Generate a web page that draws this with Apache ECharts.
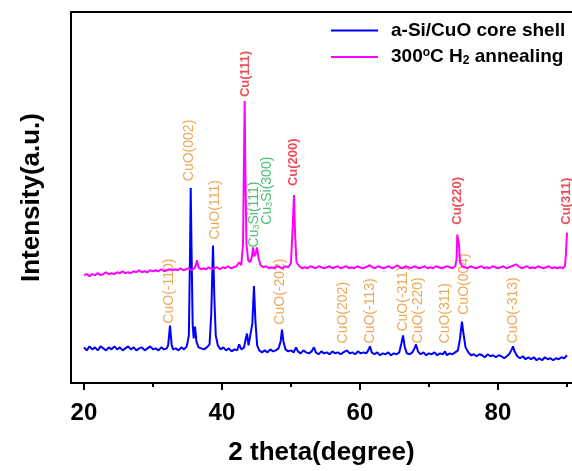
<!DOCTYPE html>
<html lang="en">
<head>
    <meta charset="UTF-8">
    <title>XRD</title>
    <script src="https://cdn.jsdelivr.net/npm/echarts@6/dist/echarts.min.js"></script>
    <style>
        html, body { margin: 0; padding: 0; background: #fff; }
        #box { width: 572px; height: 471px; }
    </style>
</head>
<body>
<div id="box"></div>
<script>
    // legend names
    var seriesNames = ['a-Si/CuO core shell', '300°C H2 annealing'];

    // [2theta, intensity]
    var blueData = [
        [20.0, 36], [20.4, 33], [20.8, 37], [21.2, 34], [21.6, 36], [22.0, 33], [22.4, 37], [22.8, 35],
        [23.2, 33], [23.6, 36], [24.0, 34], [24.4, 37], [24.8, 34], [25.2, 36], [25.6, 33], [26.0, 35],
        [26.4, 37], [26.8, 34], [27.2, 36], [27.6, 33], [28.0, 35], [28.4, 36], [28.8, 33], [29.2, 35],
        [29.6, 37], [30.0, 34], [30.4, 35], [30.8, 33], [31.2, 36], [31.6, 34], [32.0, 35], [32.2, 38],
        [32.47, 58], [32.7, 39], [32.9, 34], [33.3, 35], [33.7, 33], [34.1, 36], [34.5, 34], [34.9, 37],
        [35.2, 48], [35.35, 120], [35.47, 197], [35.6, 130], [35.75, 60], [35.9, 45], [36.09, 57], [36.3, 42],
        [36.6, 36], [37.0, 35], [37.4, 34], [37.8, 36], [38.2, 39], [38.45, 70], [38.7, 139], [38.9, 85],
        [39.1, 48], [39.4, 38], [39.8, 34], [40.2, 36], [40.6, 33], [41.0, 35], [41.4, 32], [41.8, 34],
        [42.2, 33], [42.5, 39], [42.8, 34], [43.2, 36], [43.45, 45], [43.63, 50], [43.85, 38], [44.1, 36],
        [44.4, 60], [44.64, 98], [44.85, 62], [45.1, 38], [45.4, 33], [45.8, 31], [46.2, 33], [46.6, 31],
        [47.0, 34], [47.4, 32], [47.8, 33], [48.2, 35], [48.5, 42], [48.7, 54], [48.9, 42], [49.2, 34],
        [49.6, 32], [50.0, 33], [50.4, 31], [50.73, 36], [51.0, 32], [51.4, 30], [51.8, 33], [52.2, 31],
        [52.6, 30], [53.0, 32], [53.34, 36], [53.6, 31], [54.0, 29], [54.4, 32], [54.8, 30], [55.2, 31],
        [55.6, 29], [56.0, 32], [56.4, 30], [56.8, 31], [57.2, 29], [57.6, 31], [58.12, 33], [58.5, 30],
        [58.9, 31], [59.3, 29], [59.7, 32], [60.1, 30], [60.5, 31], [60.9, 30], [61.2, 33], [61.45, 37],
        [61.7, 31], [62.1, 29], [62.5, 31], [62.9, 28], [63.3, 30], [63.7, 29], [64.1, 31], [64.5, 28],
        [64.9, 30], [65.3, 29], [65.7, 31], [66.0, 40], [66.24, 48], [66.5, 36], [66.8, 30], [67.2, 29],
        [67.6, 31], [67.9, 35], [68.12, 39], [68.4, 32], [68.8, 29], [69.2, 31], [69.6, 28], [70.0, 30],
        [70.4, 29], [70.8, 31], [71.2, 28], [71.6, 30], [72.0, 29], [72.32, 32], [72.6, 28], [73.0, 30],
        [73.4, 29], [73.8, 31], [74.2, 33], [74.5, 45], [74.78, 62], [75.0, 50], [75.3, 36], [75.7, 31],
        [76.1, 28], [76.5, 29], [76.9, 27], [77.3, 29], [77.7, 28], [78.1, 26], [78.5, 29], [78.9, 27],
        [79.3, 28], [79.7, 26], [80.1, 28], [80.5, 27], [80.9, 25], [81.3, 27], [81.7, 30], [82.0, 34],
        [82.18, 37], [82.4, 32], [82.8, 27], [83.2, 25], [83.6, 27], [84.0, 24], [84.4, 26], [84.8, 24],
        [85.2, 26], [85.6, 23], [86.0, 25], [86.4, 23], [86.8, 26], [87.2, 24], [87.6, 25], [88.0, 23],
        [88.4, 25], [88.8, 24], [89.2, 26], [89.6, 25], [90.0, 28]
    ];

    var magentaData = [
        [20.0, 109], [20.4, 110], [20.8, 108], [21.2, 110], [21.6, 109], [22.0, 111], [22.4, 109], [22.8, 110],
        [23.2, 112], [23.6, 110], [24.0, 111], [24.4, 110], [24.8, 112], [25.2, 111], [25.6, 113], [26.0, 111],
        [26.4, 112], [26.8, 111], [27.2, 113], [27.6, 112], [28.0, 114], [28.4, 112], [28.8, 113], [29.2, 112],
        [29.6, 114], [30.0, 113], [30.4, 114], [30.8, 113], [31.2, 115], [31.6, 113], [32.0, 114], [32.4, 115],
        [32.8, 114], [33.2, 115], [33.6, 114], [34.0, 116], [34.4, 114], [34.8, 115], [35.2, 116], [35.6, 114],
        [36.0, 116], [36.2, 119], [36.38, 124], [36.6, 117], [36.9, 115], [37.3, 116], [37.7, 115], [38.1, 117],
        [38.5, 115], [38.9, 116], [39.3, 117], [39.7, 115], [40.1, 117], [40.5, 116], [40.9, 118], [41.3, 116],
        [41.7, 117], [42.1, 118], [42.5, 122], [42.8, 119], [43.05, 140], [43.2, 230], [43.29, 285], [43.4, 210],
        [43.55, 140], [43.8, 124], [44.1, 122], [44.35, 128], [44.5, 137], [44.7, 128], [44.9, 131], [45.08, 137],
        [45.3, 126], [45.6, 119], [46.0, 117], [46.4, 118], [46.8, 116], [47.2, 117], [47.6, 116], [48.0, 118],
        [48.4, 117], [48.8, 116], [49.2, 118], [49.6, 117], [50.0, 121], [50.2, 150], [50.44, 190], [50.6, 150],
        [50.8, 122], [51.2, 118], [51.6, 116], [52.0, 117], [52.4, 116], [52.8, 118], [53.2, 117], [53.6, 116],
        [54.0, 118], [54.4, 117], [54.8, 116], [55.2, 117], [55.6, 118], [56.0, 116], [56.4, 117], [56.8, 118],
        [57.2, 116], [57.6, 117], [58.0, 118], [58.4, 116], [58.8, 117], [59.2, 116], [59.6, 118], [60.0, 117],
        [60.4, 116], [60.8, 117], [61.45, 119], [61.8, 117], [62.2, 116], [62.6, 118], [63.0, 117], [63.4, 116],
        [63.8, 117], [64.2, 118], [64.6, 116], [65.0, 117], [65.4, 119], [65.8, 117], [66.2, 116], [66.6, 118],
        [67.0, 117], [67.4, 116], [67.8, 118], [68.2, 117], [68.6, 116], [69.0, 117], [69.4, 118], [69.8, 116],
        [70.2, 117], [70.6, 116], [71.0, 118], [71.4, 117], [71.8, 116], [72.2, 117], [72.6, 118], [73.0, 117],
        [73.4, 116], [73.8, 118], [74.0, 125], [74.1, 150], [74.21, 152], [74.35, 140], [74.5, 122], [74.8, 118],
        [75.2, 117], [75.6, 116], [76.0, 118], [76.4, 117], [76.8, 116], [77.2, 117], [77.6, 118], [78.0, 116],
        [78.4, 117], [78.8, 116], [79.2, 118], [79.6, 117], [80.0, 116], [80.4, 117], [80.8, 118], [81.2, 116],
        [81.6, 117], [82.0, 118], [82.6, 120], [83.0, 118], [83.4, 116], [83.8, 117], [84.2, 118], [84.6, 116],
        [85.0, 117], [85.4, 116], [85.8, 118], [86.2, 117], [86.6, 116], [87.0, 117], [87.4, 118], [87.8, 116],
        [88.2, 117], [88.6, 116], [89.0, 117], [89.4, 116], [89.7, 118], [89.85, 130], [90.0, 152]
    ];

    // peak labels: name, 2theta, intensity where the text starts, kind
    var peakNames = ['CuO(-110)', 'CuO(002)', 'CuO(111)', 'Cu3Si(111)', 'Cu3Si(300)', 'CuO(-202)',
        'Cu(111)', 'Cu(200)', 'Cu(220)', 'Cu(311)', 'CuO(202)', 'CuO(-113)', 'CuO(-311)',
        'CuO(-220)', 'CuO(311)', 'CuO(004)', 'CuO(-313)'];
    var peakPos = [32.32, 35.22, 38.99, 44.64, 46.52, 48.41, 43.34, 50.29, 74.06, 89.86,
        57.54, 61.45, 66.24, 68.41, 72.32, 75.08, 82.18];
    var peakBase = [60, 204, 145, 137, 160, 59, 289, 199, 160, 160, 40, 40, 52, 40, 40, 69, 40];
    var peakKind = ['CuO', 'CuO', 'CuO', 'Cu3Si', 'Cu3Si', 'CuO', 'Cu', 'Cu', 'Cu', 'Cu',
        'CuO', 'CuO', 'CuO', 'CuO', 'CuO', 'CuO', 'CuO'];

    var majorTicks = [20, 40, 60, 80];
    var minorTicks = [30, 50, 70, 90];

    var kindStyle = {
        CuO: {color: '#e8922c', fontSize: 14, fontWeight: 'normal'},
        Cu3Si: {color: '#1fae52', fontSize: 14, fontWeight: 'normal'},
        Cu: {color: '#e8202a', fontSize: 13, fontWeight: 'bold'}
    };

    var peakItems = [];
    for (var i = 0; i < peakNames.length; i++) {
        var st = kindStyle[peakKind[i]];
        peakItems.push({
            name: peakNames[i],
            value: [peakPos[i], peakBase[i]],
            label: {
                color: st.color,
                fontSize: st.fontSize,
                fontWeight: st.fontWeight,
                rich: {
                    s: {color: st.color, fontSize: 9, verticalAlign: 'bottom', padding: [6, 0, 0, 0]}
                }
            }
        });
    }

    var xMin = 18.12, xMax = 90.73;

    var myChart = echarts.init(document.getElementById('box'));
    var option = {
        animation: false,
        textStyle: {fontFamily: 'Liberation Sans, Arial, sans-serif'},
        grid: {left: 71, top: 12, right: 0, bottom: 84},
        legend: {
            orient: 'vertical',
            left: 326,
            top: 16,
            itemGap: 7,
            itemWidth: 47,
            itemHeight: 2,
            icon: 'rect',
            data: seriesNames,
            formatter: function (name) {
                if (name === seriesNames[1]) {
                    return '{t|300}{sup|o}{t|C H}{sub|2}{t| annealing}';
                }
                return '{t|' + name + '}';
            },
            textStyle: {
                padding: [0, 0, 0, 8],
                rich: {
                    t: {fontSize: 19, fontWeight: 'bold', color: '#000', fontFamily: 'Liberation Sans, Arial, sans-serif'},
                    sup: {fontSize: 12, fontWeight: 'bold', color: '#000', verticalAlign: 'top', padding: [0, 0, 8, 0]},
                    sub: {fontSize: 12, fontWeight: 'bold', color: '#000', verticalAlign: 'bottom', padding: [8, 0, 0, 0]}
                }
            }
        },
        xAxis: [
            {
                type: 'value',
                min: xMin,
                max: xMax,
                name: '2 theta(degree)',
                nameLocation: 'middle',
                nameGap: 57,
                nameTextStyle: {fontSize: 26, fontWeight: 'bold', color: '#000'},
                axisLine: {show: true, lineStyle: {color: '#000', width: 2}},
                axisTick: {show: true, customValues: majorTicks, length: 7, lineStyle: {color: '#000', width: 2}},
                axisLabel: {customValues: majorTicks, fontSize: 24, fontWeight: 'bold', color: '#000', margin: 18},
                splitLine: {show: false}
            },
            {
                type: 'value',
                min: xMin,
                max: xMax,
                position: 'bottom',
                axisLine: {show: false},
                axisTick: {show: true, customValues: minorTicks, length: 4, lineStyle: {color: '#000', width: 2}},
                axisLabel: {show: false},
                splitLine: {show: false}
            },
            {
                // top frame line
                type: 'value',
                min: xMin,
                max: xMax,
                position: 'top',
                axisLine: {show: true, lineStyle: {color: '#000', width: 2}},
                axisTick: {show: false},
                axisLabel: {show: false},
                splitLine: {show: false}
            }
        ],
        yAxis: {
            type: 'value',
            min: 0,
            max: 375,
            name: 'Intensity(a.u.)',
            nameLocation: 'middle',
            nameGap: 26,
            nameTextStyle: {fontSize: 26, fontWeight: 'bold', color: '#000'},
            axisLine: {show: true, lineStyle: {color: '#000', width: 2}},
            axisTick: {show: false},
            axisLabel: {show: false},
            splitLine: {show: false}
        },
        series: [
            {
                name: seriesNames[0],
                type: 'line',
                data: blueData,
                showSymbol: false,
                lineStyle: {color: '#0000ff', width: 2},
                itemStyle: {color: '#0000ff'}
            },
            {
                name: seriesNames[1],
                type: 'line',
                data: magentaData,
                showSymbol: false,
                lineStyle: {color: '#ff00ff', width: 2},
                itemStyle: {color: '#ff00ff'}
            },
            {
                name: 'peaks',
                type: 'scatter',
                data: peakItems,
                symbolSize: 0,
                silent: true,
                label: {
                    show: true,
                    position: 'top',
                    distance: 0,
                    rotate: 90,
                    align: 'left',
                    verticalAlign: 'middle',
                    formatter: function (p) {
                        return p.name.replace('Cu3Si', 'Cu{s|3}Si');
                    }
                }
            }
        ]
    };
    myChart.setOption(option);
</script>
</body>
</html>
